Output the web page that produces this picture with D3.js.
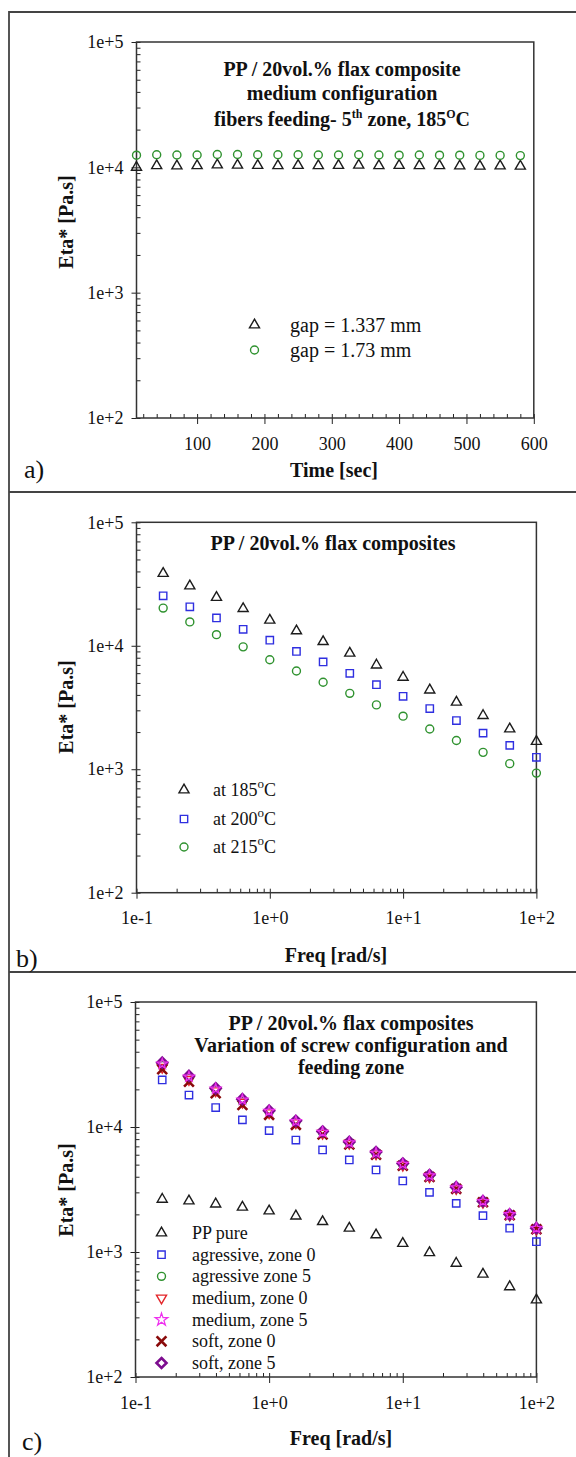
<!DOCTYPE html>
<html>
<head>
<meta charset="utf-8">
<script src="https://cdn.jsdelivr.net/npm/d3@7"></script>
<style>
  html, body { margin: 0; padding: 0; background: #fff; }
  svg { display: block; }
</style>
</head>
<body>
<svg id="fig" width="576" height="1457"></svg>
<script>
// ---------- data ----------
// (a) time sweep at 185 °C, two gap settings
const timeSec = [10, 40, 70, 100, 130, 160, 190, 220, 250, 280, 310, 340, 370, 400, 430, 460, 490, 520, 550, 580];
const etaGap1337 = [10000, 10300, 10250, 10300, 10450, 10400, 10350, 10300, 10350, 10300, 10350, 10400, 10300, 10350, 10300, 10300, 10250, 10200, 10250, 10200];
const etaGap173 = [12500, 12600, 12550, 12550, 12650, 12650, 12600, 12600, 12600, 12550, 12550, 12600, 12550, 12500, 12550, 12500, 12500, 12450, 12450, 12400];

// (b) frequency sweeps at three temperatures
const freq = [0.1585, 0.2512, 0.3981, 0.631, 1, 1.585, 2.512, 3.981, 6.31, 10, 15.85, 25.12, 39.81, 63.1, 100];
const eta185 = [38500, 30500, 24600, 20000, 16100, 13200, 10800, 8700, 6980, 5550, 4380, 3490, 2720, 2120, 1680];
const eta200 = [25400, 20700, 16800, 13600, 11100, 9000, 7400, 5980, 4840, 3900, 3100, 2480, 1960, 1560, 1250];
const eta215 = [20200, 15600, 12300, 9800, 7700, 6240, 5060, 4120, 3320, 2690, 2120, 1710, 1370, 1110, 930];

// (c) screw configuration / feeding zone
const etaPPpure = [2640, 2560, 2420, 2280, 2130, 1940, 1750, 1550, 1370, 1170, 987, 812, 664, 527, 413];
const etaAgrZone0 = [23800, 18000, 14300, 11400, 9350, 7870, 6550, 5450, 4530, 3700, 3000, 2450, 1950, 1550, 1210];
const etaAgrZone5 = [31000, 24500, 19800, 16000, 13200, 10900, 9000, 7450, 6150, 5000, 4050, 3250, 2520, 1980, 1530];
const etaMedZone0 = [30000, 24000, 19500, 15800, 13000, 10800, 8900, 7400, 6100, 4950, 4000, 3220, 2500, 1970, 1520];
const etaMedZone5 = [32000, 25200, 20200, 16500, 13400, 11100, 9100, 7500, 6200, 5050, 4080, 3280, 2550, 2000, 1550];
const etaSoftZone0 = [29000, 23000, 18600, 15000, 12500, 10400, 8700, 7250, 6000, 4900, 3980, 3200, 2500, 1970, 1520];
const etaSoftZone5 = [32700, 25600, 20400, 16700, 13500, 11200, 9200, 7600, 6300, 5100, 4130, 3300, 2550, 2000, 1550];

// tick values
const etaTicks = [1e2, 1e3, 1e4, 1e5];
const timeTicks = [100, 200, 300, 400, 500, 600];
const freqTicks = [0.1, 1, 10, 100];

// ---------- helpers ----------
const svg = d3.select("#fig");
const SERIF = "'Liberation Serif', 'Times New Roman', serif";
const C = {
  black: "#1c1c1c", blue: "#2f2fe0", green: "#2f922f", red: "#e3262a",
  magenta: "#ee30ee", darkred: "#8a0a0a", purple: "#7d0d8f", frame: "#444"
};
const expFmt = d => {
  const e = Math.round(Math.log10(d));
  return "1e" + (e < 0 ? "-" : "+") + Math.abs(e);
};

const symX = d3.symbolTimes || d3.symbolX;
const symDiamond = d3.symbolDiamond2 || d3.symbolDiamond;
const MARK = {
  triUp:   { type: d3.symbolTriangle, size: 44, rot: 0, fill: "none", sw: 1.4 },
  triDown: { type: d3.symbolTriangle, size: 44, rot: 180, fill: "none", sw: 1.4 },
  square:  { type: d3.symbolSquare, size: 54, rot: 0, fill: "none", sw: 1.4 },
  circle:  { type: d3.symbolCircle, size: 50, rot: 0, fill: "none", sw: 1.4 },
  star:    { type: d3.symbolStar, size: 34, rot: 0, fill: "none", sw: 1.2 },
  cross:   { type: symX, size: 64, rot: 0, fill: "none", sw: 2.6 },
  diamond: { type: symDiamond, size: 64, rot: 0, fill: "none", sw: 2.6 }
};

function drawMarks(g, xs, ys, x, y, kind, color) {
  const m = MARK[kind];
  const path = d3.symbol().type(m.type).size(m.size)();
  g.append("g").selectAll("path")
    .data(xs.map((v, i) => [v, ys[i]]))
    .join("path")
    .attr("d", path)
    .attr("transform", d => `translate(${x(d[0])},${y(d[1])}) rotate(${m.rot})`)
    .attr("fill", m.fill)
    .attr("stroke", color)
    .attr("stroke-width", m.sw);
}

function legendMark(g, cx, cy, kind, color) {
  const m = MARK[kind];
  const size = kind === "star" ? 50 : m.size;
  g.append("path")
    .attr("d", d3.symbol().type(m.type).size(size)())
    .attr("transform", `translate(${cx},${cy}) rotate(${m.rot})`)
    .attr("fill", m.fill).attr("stroke", color).attr("stroke-width", m.sw);
}

function styleAxis(sel, fontSize) {
  sel.select(".domain").remove();
  sel.attr("font-family", SERIF).attr("font-size", fontSize);
  sel.selectAll("line").attr("stroke", "#222").attr("stroke-width", 1);
  sel.selectAll("text").attr("fill", "#111");
}

function drawAxes(g, x, y, xMajors, xMinors, xFmt) {
  const [x0, x1] = x.range();
  const [yb, yt] = y.range();
  // left axis: labelled decades pointing out, all ticks pointing in
  g.append("g").attr("transform", `translate(${x0},0)`)
    .call(d3.axisLeft(y).tickValues(etaTicks).tickFormat(expFmt).tickSize(5).tickPadding(8))
    .call(s => styleAxis(s, 18));
  g.append("g").attr("transform", `translate(${x0},0)`)
    .call(d3.axisRight(y).tickValues(y.ticks()).tickFormat("").tickSize(4))
    .call(s => styleAxis(s, 18));
  // bottom axis
  g.append("g").attr("transform", `translate(0,${yb})`)
    .call(d3.axisBottom(x).tickValues(xMajors).tickFormat(xFmt).tickSize(6).tickPadding(13))
    .call(s => styleAxis(s, 18));
  g.append("g").attr("transform", `translate(0,${yb})`)
    .call(d3.axisTop(x).tickValues(xMinors).tickFormat("").tickSize(4))
    .call(s => styleAxis(s, 18));
  // plot box
  g.append("rect")
    .attr("x", x0).attr("y", yt).attr("width", x1 - x0).attr("height", yb - yt)
    .attr("fill", "none").attr("stroke", "#333").attr("stroke-width", 1.5);
}

function text(g, x, y, str, opts = {}) {
  return g.append("text")
    .attr("x", x).attr("y", y)
    .attr("font-family", SERIF)
    .attr("font-size", opts.size || 18)
    .attr("font-weight", opts.bold ? "bold" : "normal")
    .attr("text-anchor", opts.anchor || "start")
    .attr("fill", "#111")
    .text(str);
}

// text with raised parts: parts = [[string, raised?], ...]
function richText(g, x, y, parts, opts = {}) {
  const size = opts.size || 18;
  const small = Math.round(size * (opts.supScale || 0.62));
  const lift = Math.round(size * 0.42);
  const t = g.append("text")
    .attr("x", x).attr("y", y)
    .attr("font-family", SERIF)
    .attr("font-size", size)
    .attr("font-weight", opts.bold ? "bold" : "normal")
    .attr("text-anchor", opts.anchor || "start")
    .attr("fill", "#111");
  let raised = false;
  parts.forEach(([s, sup]) => {
    const ts = t.append("tspan").text(s).attr("font-size", sup ? small : size);
    if (sup && !raised) ts.attr("dy", -lift);
    if (!sup && raised) ts.attr("dy", lift);
    raised = sup;
  });
  return t;
}

function yTitle(g, cx, cy) {
  g.append("text")
    .attr("transform", `translate(${cx},${cy}) rotate(-90)`)
    .attr("dy", "0.35em")
    .attr("text-anchor", "middle")
    .attr("font-family", SERIF).attr("font-size", 20).attr("font-weight", "bold")
    .attr("fill", "#111")
    .text("Eta* [Pa.s]");
}

// ---------- outer frame ----------
const frame = svg.append("g").attr("stroke", C.frame).attr("stroke-width", 1.8).attr("fill", "none");
frame.append("path").attr("d", "M9,1457 V12 H576");
frame.append("path").attr("d", "M9,492 H576");
frame.append("path").attr("d", "M9,972 H576");

// ---------- panel a ----------
{
  const g = svg.append("g");
  const x = d3.scaleLinear().domain([10, 600]).range([136.5, 533.8]);
  const y = d3.scaleLog().domain([1e2, 1e5]).range([418, 42]);
  drawAxes(g, x, y, timeTicks, x.ticks(30), d3.format("d"));
  drawMarks(g, timeSec, etaGap1337, x, y, "triUp", C.black);
  drawMarks(g, timeSec, etaGap173, x, y, "circle", C.green);

  text(g, 342, 76, "PP / 20vol.% flax composite", { size: 20, bold: true, anchor: "middle" });
  text(g, 342, 100, "medium configuration", { size: 20, bold: true, anchor: "middle" });
  richText(g, 342, 126, [["fibers feeding- 5", false], ["th", true], [" zone, 185", false], ["O", true], ["C", false]],
    { size: 20, bold: true, anchor: "middle" });

  legendMark(g, 254.5, 325, "triUp", C.black);
  legendMark(g, 254.5, 350, "circle", C.green);
  text(g, 290, 332, "gap = 1.337 mm", { size: 20 });
  text(g, 290, 357, "gap = 1.73 mm", { size: 20 });

  yTitle(g, 66, 222);
  text(g, 334, 477, "Time [sec]", { size: 20, bold: true, anchor: "middle" });
  text(g, 24, 478, "a)", { size: 26 });
}

// ---------- panel b ----------
{
  const g = svg.append("g");
  const x = d3.scaleLog().domain([0.1, 100]).range([136.5, 536.4]);
  const y = d3.scaleLog().domain([1e2, 1e5]).range([892.7, 522.3]);
  drawAxes(g, x, y, freqTicks, x.ticks(), expFmt);
  drawMarks(g, freq, eta185, x, y, "triUp", C.black);
  drawMarks(g, freq, eta200, x, y, "square", C.blue);
  drawMarks(g, freq, eta215, x, y, "circle", C.green);

  text(g, 333, 550, "PP / 20vol.% flax composites", { size: 20, bold: true, anchor: "middle" });

  const rows = [["185", "triUp", C.black, 790], ["200", "square", C.blue, 819], ["215", "circle", C.green, 847]];
  rows.forEach(([t, k, c, cy]) => {
    legendMark(g, 184, cy, k, c);
    richText(g, 213, cy + 6, [["at " + t, false], ["o", true], ["C", false]], { size: 18, supScale: 0.7 });
  });

  yTitle(g, 66, 707);
  text(g, 336, 962, "Freq [rad/s]", { size: 20, bold: true, anchor: "middle" });
  text(g, 16, 967, "b)", { size: 26 });
}

// ---------- panel c ----------
{
  const g = svg.append("g");
  const x = d3.scaleLog().domain([0.1, 100]).range([135.5, 536.4]);
  const y = d3.scaleLog().domain([1e2, 1e5]).range([1377, 1002]);
  drawAxes(g, x, y, freqTicks, x.ticks(), expFmt);

  drawMarks(g, freq, etaPPpure, x, y, "triUp", C.black);
  drawMarks(g, freq, etaAgrZone0, x, y, "square", C.blue);
  drawMarks(g, freq, etaAgrZone5, x, y, "circle", C.green);
  drawMarks(g, freq, etaMedZone0, x, y, "triDown", C.red);
  drawMarks(g, freq, etaSoftZone0, x, y, "cross", C.darkred);
  drawMarks(g, freq, etaSoftZone5, x, y, "diamond", C.purple);
  drawMarks(g, freq, etaMedZone5, x, y, "star", C.magenta);

  text(g, 351, 1030, "PP / 20vol.% flax composites", { size: 20, bold: true, anchor: "middle" });
  text(g, 351, 1052, "Variation of screw configuration and", { size: 20, bold: true, anchor: "middle" });
  text(g, 351, 1074, "feeding zone", { size: 20, bold: true, anchor: "middle" });

  const legend = [
    ["PP pure", "triUp", C.black],
    ["agressive, zone 0", "square", C.blue],
    ["agressive zone 5", "circle", C.green],
    ["medium, zone 0", "triDown", C.red],
    ["medium, zone 5", "star", C.magenta],
    ["soft, zone 0", "cross", C.darkred],
    ["soft, zone 5", "diamond", C.purple]
  ];
  const rowY = d3.scalePoint().domain(legend.map(d => d[0])).range([1233, 1363]);
  legend.forEach(([label, k, c]) => {
    const cy = rowY(label);
    legendMark(g, 161.5, cy, k, c);
    text(g, 192, cy + 6, label, { size: 18 });
  });

  yTitle(g, 66, 1190);
  text(g, 341, 1445, "Freq [rad/s]", { size: 20, bold: true, anchor: "middle" });
  text(g, 22, 1450, "c)", { size: 26 });
}
</script>
</body>
</html>
